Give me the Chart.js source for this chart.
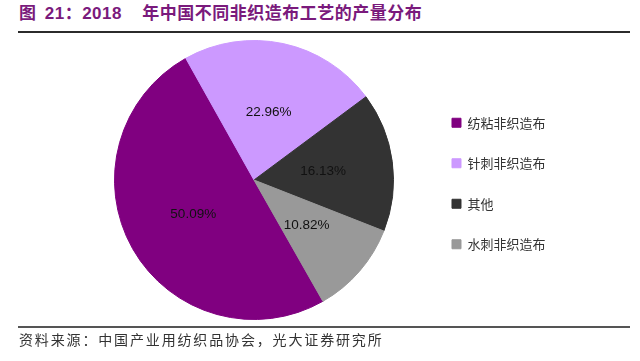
<!DOCTYPE html>
<html>
<head>
<meta charset="utf-8">
<script src="https://cdn.jsdelivr.net/npm/chart.js@4"></script>
<style>
  body { margin: 0; background: #fff; width: 640px; height: 361px; position: relative; overflow: hidden; }
  #title {
    position: absolute; left: 19px; top: 4px;
    font: bold 17px/20px "Liberation Sans", Arial, "Noto Sans CJK SC", sans-serif;
    letter-spacing: 0.5px; word-spacing: 3px; color: #7a1a7c; white-space: nowrap;
  }
  #title span { margin-left: 12px; }
  .rule { position: absolute; left: 18px; width: 612px; height: 2px; }
  #source {
    position: absolute; left: 19px; top: 330px;
    font: 14px/18px "Noto Sans CJK SC", sans-serif;
    letter-spacing: 1.85px; color: #333; white-space: nowrap;
  }
  #pie { position: absolute; left: 0; top: 33px; }
</style>
</head>
<body>
<div id="title">图 21：2018 <span>年中国不同非织造布工艺的产量分布</span></div>
<div class="rule" style="top:31px;background:#2b2b2b"></div>
<canvas id="pie" width="640" height="294" style="width:640px;height:294px"></canvas>
<div class="rule" style="top:326px;background:#555"></div>
<div id="source">资料来源：中国产业用纺织品协会，光大证券研究所</div>

<script>
// Production share by process, 2018 (%)
const processes = ["纺粘非织造布", "针刺非织造布", "其他", "水刺非织造布"];
const shares = [50.09, 22.96, 16.13, 10.82];
const colours = ["#800080", "#cc99ff", "#333333", "#999999"];

// Percent labels drawn at the middle of each slice
const pieLabels = {
  id: "pieLabels",
  afterDatasetsDraw(chart) {
    const ctx = chart.ctx;
    const meta = chart.getDatasetMeta(0);
    ctx.save();
    ctx.font = '13.5px "Liberation Sans", Arial, sans-serif';
    ctx.fillStyle = "#111";
    ctx.textAlign = "center";
    ctx.textBaseline = "middle";
    meta.data.forEach((arc, i) => {
      const p = arc.tooltipPosition();
      ctx.fillText(shares[i].toFixed(2) + "%", p.x, p.y);
    });
    ctx.restore();
  },
};

const pieChart = new Chart(document.getElementById("pie"), {
  type: "pie",
  data: {
    labels: processes,
    datasets: [
      {
        data: shares,
        backgroundColor: colours,
        borderColor: colours,
        borderWidth: 1,
      },
    ],
  },
  options: {
    responsive: false,
    animation: false,
    devicePixelRatio: 1,
    rotation: 150.4,
    layout: { padding: { top: 7, bottom: 7, left: 83.5, right: 84.5 } },
    plugins: {
      tooltip: { enabled: false },
      legend: {
        position: "right",
        // empty title only nudges the legend items down a few pixels
        title: { display: true, text: " ", font: { size: 5, lineHeight: 1 }, padding: 1 },
        labels: {
          boxWidth: 9,
          boxHeight: 9,
          padding: 27.5,
          color: "#333",
          font: { size: 13, family: '"Noto Sans CJK SC", sans-serif' },
        },
      },
    },
  },
  plugins: [pieLabels],
});
</script>
</body>
</html>
